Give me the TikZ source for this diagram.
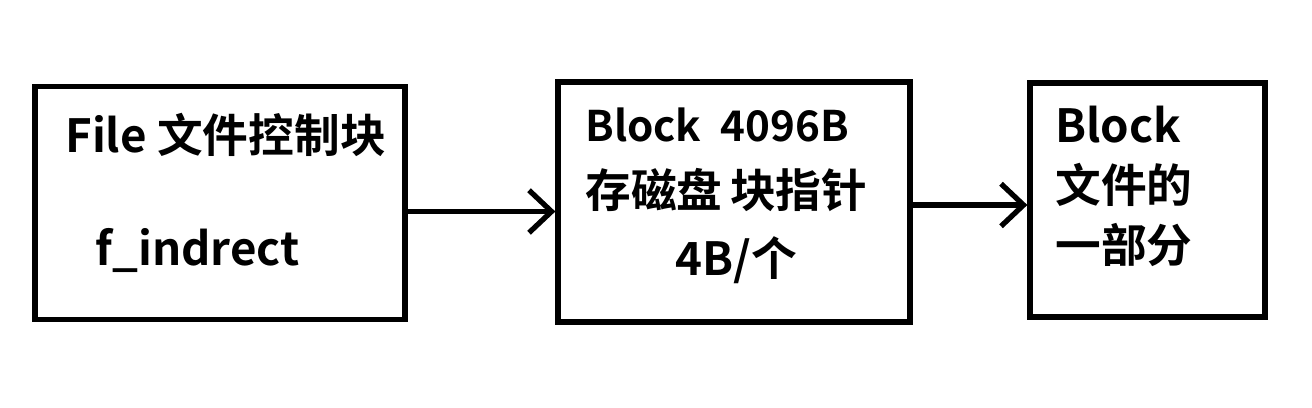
\documentclass[tikz,border=0pt]{standalone}
\usepackage{fontspec}
\setmainfont{Noto Sans CJK SC}[BoldFont={Noto Sans CJK SC Bold}]
\usepackage{tikz}
\usetikzlibrary{positioning,calc,arrows.meta}

\begin{document}
\begin{tikzpicture}[
					% box with thick frame
					blockbox/.style={
						draw=black, line width=3pt, fill=white,
						inner sep=0pt
					},
					% text written inside the boxes
					txt/.style={
						anchor=west, inner sep=0pt, font=\fontsize{26}{30}\selectfont\bfseries
					},
					% open arrow
					arr/.style={
						line width=3pt, -{Straight Barb[length=0.45cm, width=0.85cm, line width=3pt]}
					}
					]
					
					\useasboundingbox (0,0) rectangle (26.24,8.14);
					
					% --- 1. BOXES ---
					\node[blockbox, minimum width=7.4cm, minimum height=4.66cm] (fcb) at (4.4, 4.08) {};
					\node[blockbox, minimum width=7.04cm, minimum height=4.8cm] (blk) at (14.68, 4.1) {};
					\node[blockbox, minimum width=4.7cm, minimum height=4.68cm] (dat) at (22.95, 4.14) {};
					
					% --- 2. TEXTS ---
					% file control block
					\node[txt] (fcbname) at (1.3, 5.44) {File 文件控制块};
					\node[txt] (fcbptr) at (1.9, 3.14) {f\_indrect};
					
					% indirect block
					\node[txt, font=\fontsize{24}{28}\selectfont\bfseries] (blkname) at (11.7, 5.64) {Block\ \ 4096B};
					\node[txt] (blkuse) at (11.7, 4.34) {存磁盘\,块指针};
					\node[txt] (blksize) at (13.5, 2.94) {4B/个};
					
					% data block
					\node[txt] (datname) at (21.1, 5.64) {Block};
					\node[txt] (datuse1) at (21.1, 4.44) {文件的};
					\node[txt] (datuse2) at (21.1, 3.24) {一部分};
					
					% --- 3. ARROWS ---
					\draw[arr] ([yshift=-0.17cm]fcb.east) -- ([yshift=-0.17cm]fcb.east -| blk.west);
					\draw[arr] ([yshift=-0.06cm]blk.east) -- ([yshift=-0.06cm]blk.east -| dat.west);
				\end{tikzpicture}
\end{document}
